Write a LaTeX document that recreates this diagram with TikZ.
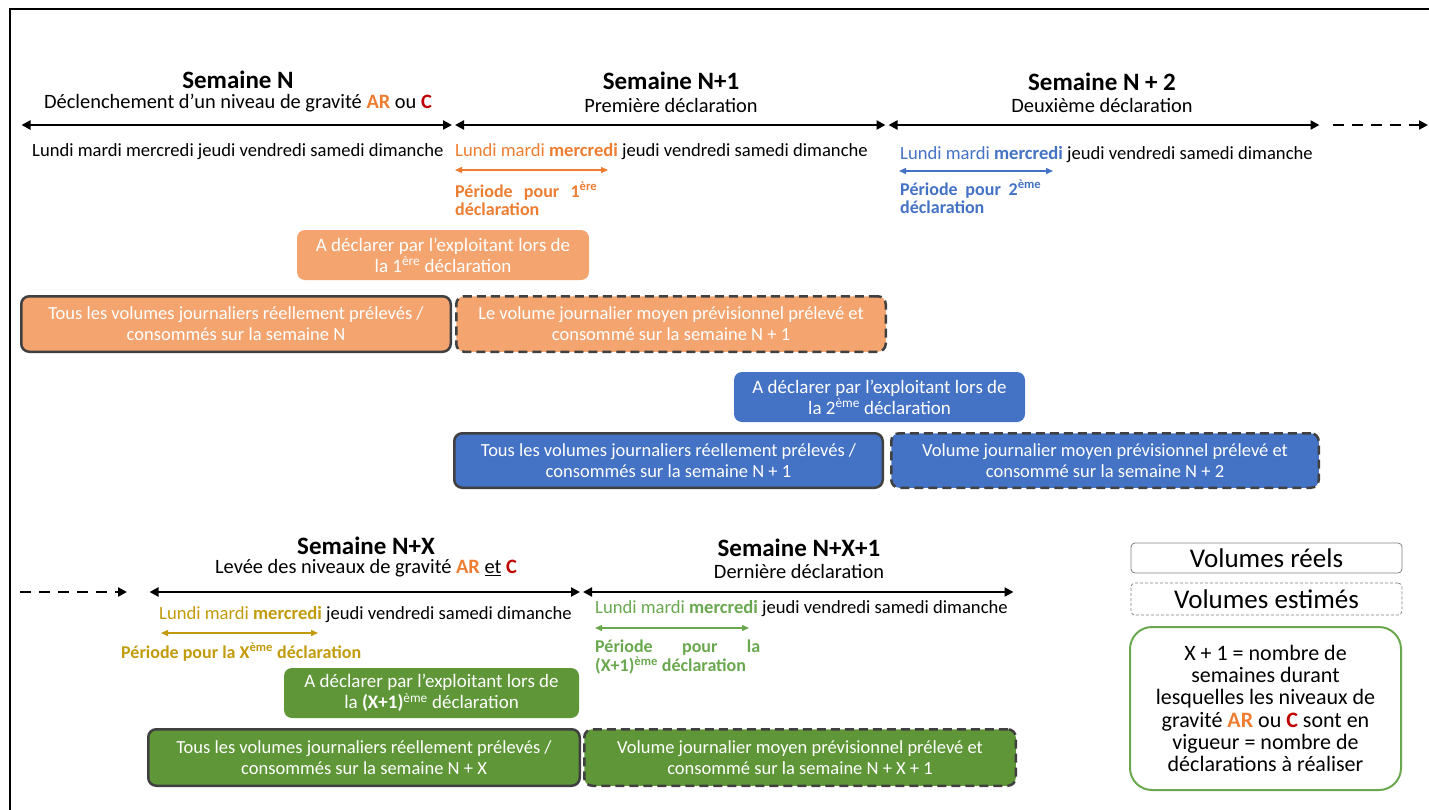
\documentclass[tikz,border=0pt]{standalone}
\usepackage{fontspec}
\setmainfont{Carlito}
\usetikzlibrary{arrows.meta}
\definecolor{orangetxt}{HTML}{ED7D31}
\definecolor{orangebox}{HTML}{F3A46F}
\definecolor{bluebox}{HTML}{4472C4}
\definecolor{greenbox}{HTML}{5F9638}
\definecolor{greentxt}{HTML}{6AA84F}
\definecolor{goldtxt}{HTML}{C29B0C}
\definecolor{redc}{HTML}{C00000}
\definecolor{edgegray}{HTML}{404040}
\begin{document}
\begin{tikzpicture}[x=1pt,y=-1pt]
        \tikzstyle{week}=[font=\fontsize{25}{28}\selectfont\bfseries, inner sep=0pt]
        \tikzstyle{sub}=[font=\fontsize{20.4}{24}\selectfont, inner sep=0pt]
        \tikzstyle{days}=[font=\fontsize{18.6}{22}\selectfont, inner sep=0pt, anchor=west]
        \tikzstyle{period}=[font=\fontsize{18}{18.5}\selectfont\bfseries, inner sep=0pt, anchor=north west, align=left]
        \tikzstyle{box}=[rounded corners=8pt, text=white, align=center, font=\fontsize{18.5}{21}\selectfont, inner sep=0pt]
        \tikzstyle{ask}=[box, font=\fontsize{19}{21}\selectfont, minimum height=50pt]
        \tikzstyle{real}=[box, draw=edgegray, line width=2.5pt]
        \tikzstyle{estim}=[real, dash pattern=on 9pt off 5pt]
        \tikzstyle{weekline}=[{Triangle[length=9pt,width=9pt]}-{Triangle[length=9pt,width=9pt]}, line width=2.2pt, shorten <=1.5pt, shorten >=1.5pt]
        \tikzstyle{moreline}=[-{Triangle[length=9pt,width=9pt]}, line width=2.2pt, dash pattern=on 11pt off 8pt]
        \tikzstyle{periodline}=[{Triangle[length=7pt,width=6pt]}-{Triangle[length=7pt,width=6pt]}, line width=1.4pt]
        \tikzstyle{legend}=[rounded corners=4pt, draw=black!50, line width=0.8pt, font=\fontsize{27}{30}\selectfont, inner sep=0pt, minimum width=271pt]
        \useasboundingbox (0,0) rectangle (1429,809);
        % frame
        \draw[line width=2.4pt] (10,815) -- (10,9) -- (1435,9);
        % weeks N, N+1, N+2
        \node[week] (wN) at (238,80) {Semaine N};
        \node[sub] (sN) at (238,103) {Déclenchement d’un niveau de gravité {\bfseries\color{orangetxt}AR} ou {\bfseries\color{redc}C}};
        \node[week] (wN1) at (671,81) {Semaine N+1};
        \node[sub] (sN1) at (671,105) {Première déclaration};
        \node[week] (wN2) at (1102,82) {Semaine N + 2};
        \node[sub] (sN2) at (1102,105) {Deuxième déclaration};
        \coordinate (t0) at (20,125);
        \coordinate (t1) at (453.5,125);
        \coordinate (t2) at (887,125);
        \coordinate (t3) at (1321,125);
        \coordinate (t4) at (1333,125);
        \coordinate (t5) at (1428,125);
        \path[weekline] (t0) edge (t1);
        \path[weekline] (t1) edge (t2);
        \path[weekline] (t2) edge (t3);
        \draw[moreline] (t4) -- (t5);
        \node[days] (dN) at (32,152) {Lundi mardi mercredi jeudi vendredi samedi dimanche};
        \node[days] (dN1) at (455,152) {{\color{orangetxt}Lundi mardi \textbf{mercredi}} jeudi vendredi samedi dimanche};
        \node[days] (dN2) at (900,155) {{\color{bluebox}Lundi mardi \textbf{mercredi}} jeudi vendredi samedi dimanche};
        \coordinate (p1a) at (455,170);
        \coordinate (p1b) at (608,170);
        \coordinate (p2a) at (899,171);
        \coordinate (p2b) at (1053,171);
        \draw[periodline, orangetxt] (p1a) -- (p1b);
        \draw[periodline, bluebox] (p2a) -- (p2b);
        \node[period, text=orangetxt] (pN1) at (455,182) {\makebox[142pt][s]{Période pour 1\textsuperscript{ère}}\\déclaration};
        \node[period, text=bluebox] (pN2) at (900,180) {\makebox[141pt][s]{Période pour 2\textsuperscript{ème}}\\déclaration};
        % boxes, first declaration
        \node[ask, fill=orangebox, minimum width=292pt] (aN1) at (443,255) {A déclarer par l’exploitant lors de\\la 1\textsuperscript{ère} déclaration};
        \node[real, fill=orangebox, minimum width=429.5pt, minimum height=55.5pt] (rN) at (236,324) {Tous les volumes journaliers réellement prélevés /\\consommés sur la semaine N};
        \node[estim, fill=orangebox, minimum width=429.5pt, minimum height=55.5pt] (eN1) at (671,324) {Le volume journalier moyen prévisionnel prélevé et\\consommé sur la semaine N + 1};
        % boxes, second declaration
        \node[ask, fill=bluebox, minimum width=291pt] (aN2) at (879.5,397) {A déclarer par l’exploitant lors de\\la 2\textsuperscript{ème} déclaration};
        \node[real, fill=bluebox, minimum width=428.5pt, minimum height=54.5pt] (rN1) at (668.5,460.5) {Tous les volumes journaliers réellement prélevés /\\consommés sur la semaine N + 1};
        \node[estim, fill=bluebox, minimum width=427.5pt, minimum height=54.5pt] (eN2) at (1105,460.5) {Volume journalier moyen prévisionnel prélevé et\\consommé sur la semaine N + 2};
        % weeks N+X, N+X+1
        \node[week] (wNX) at (366,546) {Semaine N+X};
        \node[sub] (sNX) at (366,568) {Levée des niveaux de gravité {\bfseries\color{orangetxt}AR} \underline{et} {\bfseries\color{redc}C}};
        \node[week] (wNX1) at (799,548) {Semaine N+X+1};
        \node[sub] (sNX1) at (799,571) {Dernière déclaration};
        \coordinate (b0) at (20,592);
        \coordinate (b1) at (127,592);
        \coordinate (b2) at (148,592);
        \coordinate (b3) at (581.5,592);
        \coordinate (b4) at (1015,592);
        \draw[moreline] (b0) -- (b1);
        \path[weekline] (b2) edge (b3);
        \path[weekline] (b3) edge (b4);
        \node[days] (dNX) at (159,615) {{\color{goldtxt}Lundi mardi \textbf{mercredi}} jeudi vendredi samedi dimanche};
        \node[days] (dNX1) at (595,609) {{\color{greentxt}Lundi mardi \textbf{mercredi}} jeudi vendredi samedi dimanche};
        \coordinate (pXa) at (161,633);
        \coordinate (pXb) at (318,633);
        \coordinate (pX1a) at (595,628);
        \coordinate (pX1b) at (749,628);
        \draw[periodline, goldtxt] (pXa) -- (pXb);
        \draw[periodline, greentxt] (pX1a) -- (pX1b);
        \node[period, text=goldtxt] (pNX) at (121,643) {Période pour la X\textsuperscript{ème} déclaration};
        \node[period, text=greentxt] (pNX1) at (595,640) {\makebox[165pt][s]{Période pour la}\\(X+1)\textsuperscript{ème} déclaration};
        % boxes, last declaration
        \node[ask, fill=greenbox, minimum width=295pt] (aNX1) at (431.5,693) {A déclarer par l’exploitant lors de\\la \textbf{(X+1)}\textsuperscript{ème} déclaration};
        \node[real, fill=greenbox, minimum width=431.5pt, minimum height=56.5pt] (rNX) at (364,757.5) {Tous les volumes journaliers réellement prélevés /\\consommés sur la semaine N + X};
        \node[estim, fill=greenbox, minimum width=431.5pt, minimum height=56.5pt] (eNX1) at (800,757.5) {Volume journalier moyen prévisionnel prélevé et\\consommé sur la semaine N + X + 1};
        % legend
        \node[legend, minimum height=30pt] (lReal) at (1266.5,558) {Volumes réels};
        \node[legend, minimum height=32pt, dash pattern=on 3pt off 2pt] (lEst) at (1266.5,599) {Volumes estimés};
        \node[draw=greentxt, line width=2pt, rounded corners=22pt, minimum width=271pt, minimum height=163pt, align=center, inner sep=0pt, font=\fontsize{22}{22.3}\selectfont] (lNote) at (1265.5,708.5) {X + 1 = nombre de\\semaines durant\\lesquelles les niveaux de\\gravité {\bfseries\color{orangetxt}AR} ou {\bfseries\color{redc}C} sont en\\vigueur = nombre de\\déclarations à réaliser};
\end{tikzpicture}
\end{document}
